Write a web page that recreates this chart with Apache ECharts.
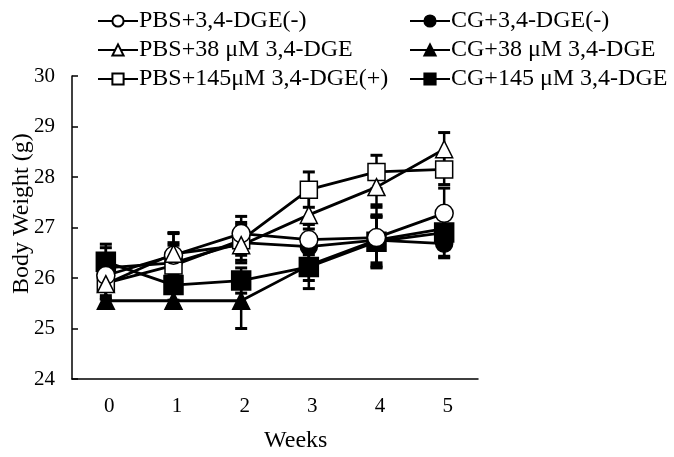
<!DOCTYPE html>
<html>
<head>
<meta charset="utf-8">
<script src="https://cdn.jsdelivr.net/npm/echarts@6/dist/echarts.min.js"></script>
<style>html,body{margin:0;padding:0;background:#fff}#c{width:674px;height:457px}</style>
</head>
<body>
<div id="c"></div>
<script>
const weeks = ['0', '1', '2', '3', '4', '5'];
const yTicks = [24, 25, 26, 27, 28, 29, 30];

const pbsNeg = [26.05, 26.45, 26.88, 26.76, 26.80, 27.28];
const pbsNegErr = [0.30, 0.45, 0.34, 0.30, 0.60, 0.50];
const pbs38 = [25.88, 26.48, 26.65, 27.25, 27.80, 28.55];
const pbs38Err = [0.30, 0.40, 0.30, 0.40, 0.35, 0.33];
const pbs145 = [25.90, 26.25, 26.75, 27.75, 28.10, 28.15];
const pbs145Err = [0.30, 0.45, 0.30, 0.35, 0.33, 0.30];
const cgNeg = [26.20, 26.30, 26.70, 26.62, 26.75, 26.68];
const cgNegErr = [0.40, 0.35, 0.40, 0.35, 0.45, 0.25];
const cg38 = [25.55, 25.55, 25.55, 26.25, 26.75, 26.98];
const cg38Err = [0.10, 0.15, 0.55, 0.30, 0.50, 0.40];
const cg145 = [26.32, 25.86, 25.95, 26.22, 26.72, 26.90];
const cg145Err = [0.35, 0.30, 0.25, 0.43, 0.50, 0.50];

const names = {
  pbsNeg: 'PBS+3,4-DGE(-)',
  pbs38: 'PBS+38 μM 3,4-DGE',
  pbs145: 'PBS+145μM 3,4-DGE(+)',
  cgNeg: 'CG+3,4-DGE(-)',
  cg38: 'CG+38 μM 3,4-DGE',
  cg145: 'CG+145 μM 3,4-DGE'
};

const FONT = "'Liberation Serif', 'Times New Roman', serif";

function errData(v, e) { return v.map((x, i) => [i, x - e[i], x + e[i]]); }

function errSeries(v, e) {
  return {
    type: 'custom',
    z: 1,
    silent: true,
    data: errData(v, e),
    encode: { x: 0, y: [1, 2] },
    renderItem: function (params, api) {
      const xi = api.value(0);
      const lo = api.coord([xi, api.value(1)]);
      const hi = api.coord([xi, api.value(2)]);
      const w = 6;
      const st = { stroke: '#000', lineWidth: 2.5 };
      return {
        type: 'group',
        children: [
          { type: 'line', shape: { x1: lo[0], y1: lo[1], x2: hi[0], y2: hi[1] }, style: st },
          { type: 'line', shape: { x1: hi[0] - w, y1: hi[1], x2: hi[0] + w, y2: hi[1] }, style: { stroke: '#000', lineWidth: 3 } },
          { type: 'line', shape: { x1: lo[0] - w, y1: lo[1], x2: lo[0] + w, y2: lo[1] }, style: { stroke: '#000', lineWidth: 3 } }
        ]
      };
    }
  };
}

function lineSeries(name, v, symbol, filled, size) {
  return {
    name: name,
    type: 'line',
    z: 3,
    data: v,
    symbol: symbol,
    symbolSize: size,
    showAllSymbol: true,
    lineStyle: { color: '#000', width: 2.8 },
    itemStyle: { color: filled ? '#000' : '#fff', borderColor: '#000', borderWidth: 1.5, opacity: 1 },
    emphasis: { disabled: true },
    animation: false
  };
}

const chart = echarts.init(document.getElementById('c'), null, { renderer: 'canvas' });

const legendCommon = {
  orient: 'vertical',
  top: 4,
  itemWidth: 40,
  itemHeight: 14,
  itemGap: 5,
  textStyle: { fontFamily: FONT, fontSize: 24, color: '#000', lineHeight: 24, padding: [0, 0, 0, -4] },
  inactiveColor: '#000'
};

chart.setOption({
  animation: false,
  backgroundColor: '#fff',
  grid: { left: 72, right: 196, top: 76, bottom: 78 },
  legend: [
    Object.assign({ left: 92, data: [names.pbsNeg, names.pbs38, names.pbs145] }, legendCommon),
    Object.assign({ left: 404, data: [names.cgNeg, names.cg38, names.cg145] }, legendCommon)
  ],
  xAxis: {
    type: 'category',
    data: weeks,
    boundaryGap: true,
    axisLine: { lineStyle: { color: '#000', width: 1.5 } },
    axisTick: { show: false },
    axisLabel: { color: '#000', fontFamily: FONT, fontSize: 21, margin: 17, padding: [0, 0, 0, 7] },
    splitLine: { show: false }
  },
  yAxis: {
    type: 'value',
    min: yTicks[0],
    max: yTicks[yTicks.length - 1],
    interval: 1,
    axisLine: { show: true, lineStyle: { color: '#000', width: 1.5 } },
    axisTick: { show: true, inside: true, length: 6, lineStyle: { color: '#000', width: 1.5 } },
    axisLabel: { color: '#000', fontFamily: FONT, fontSize: 21, margin: 17 },
    splitLine: { show: false }
  },
  graphic: [
    { type: 'text', left: 264, top: 429, style: { text: 'Weeks', font: '24px ' + FONT, fill: '#000' } },
    { type: 'text', x: 10, y: 294, rotation: Math.PI / 2, style: { text: 'Body Weight (g)', font: '24px ' + FONT, fill: '#000' } }
  ],
  series: [
    errSeries(cg145, cg145Err),
    errSeries(cg38, cg38Err),
    errSeries(cgNeg, cgNegErr),
    errSeries(pbs145, pbs145Err),
    errSeries(pbsNeg, pbsNegErr),
    errSeries(pbs38, pbs38Err),
    lineSeries(names.cg145, cg145, 'rect', true, 19),
    lineSeries(names.cg38, cg38, 'triangle', true, 17),
    lineSeries(names.cgNeg, cgNeg, 'circle', true, 17),
    lineSeries(names.pbs145, pbs145, 'rect', false, 17),
    lineSeries(names.pbsNeg, pbsNeg, 'circle', false, 18),
    lineSeries(names.pbs38, pbs38, 'triangle', false, 17)
  ]
});
</script>
</body>
</html>
